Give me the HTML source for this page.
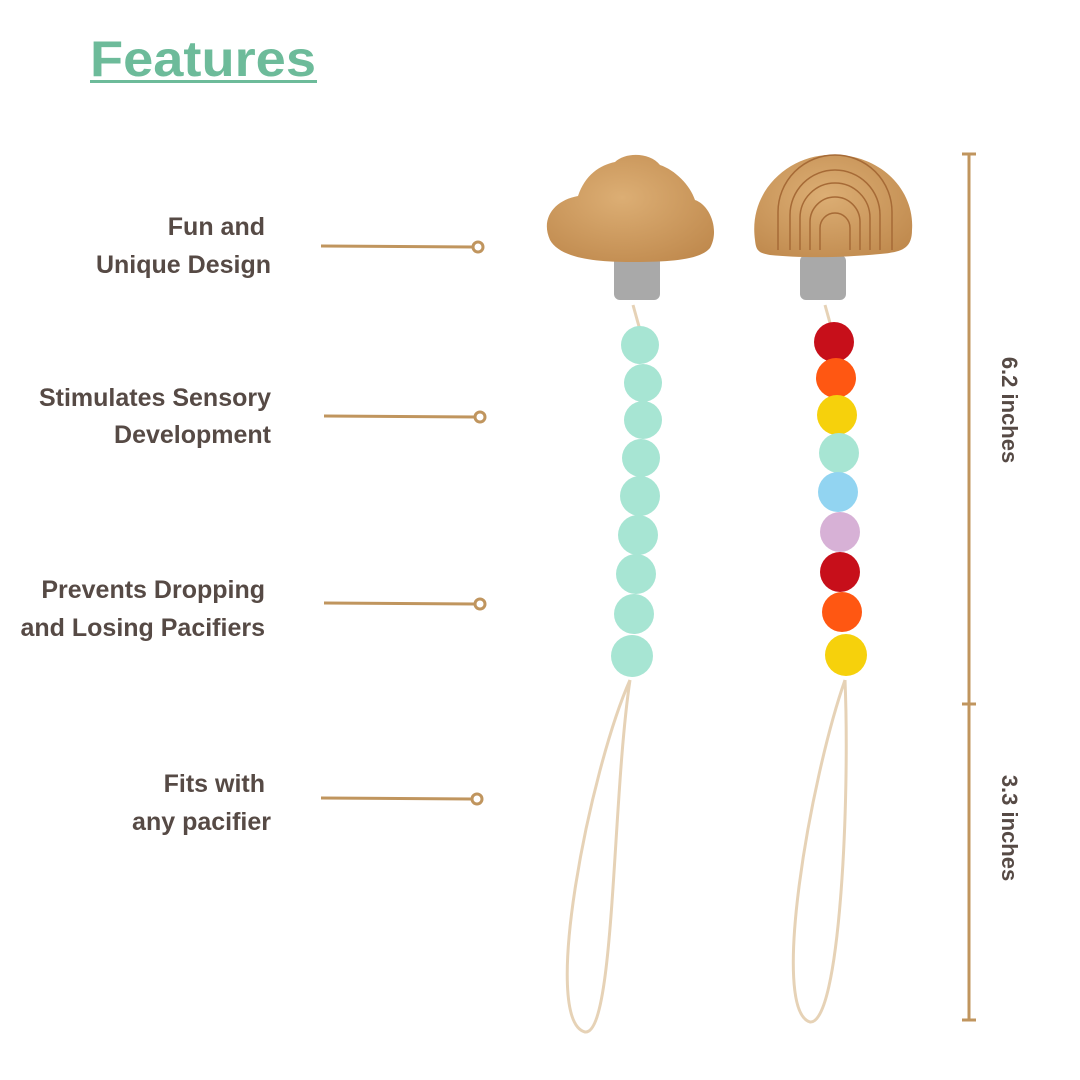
<!DOCTYPE html><html><head><style>body{margin:0;background:#fff}svg{display:block}</style></head><body>
<svg width="1080" height="1080" viewBox="0 0 1080 1080" xmlns="http://www.w3.org/2000/svg">
<defs>
<radialGradient id="wood" cx="0.45" cy="0.4" r="0.7"><stop offset="0" stop-color="#dcae74"/><stop offset="1" stop-color="#c08a4e"/></radialGradient>
</defs>
<text x="90" y="76" font-family="Liberation Sans, sans-serif" font-weight="bold" font-size="50" fill="#6dbb9a" textLength="226" lengthAdjust="spacingAndGlyphs">Features</text>
<rect x="90" y="80" width="227" height="3" fill="#6dbb9a"/>
<g font-family="Liberation Sans, sans-serif" font-weight="bold" font-size="25" fill="#564a45" text-anchor="end">
<text x="265" y="235">Fun and</text><text x="271" y="273">Unique Design</text>
<text x="271" y="406">Stimulates Sensory</text><text x="271" y="443">Development</text>
<text x="265" y="598">Prevents Dropping</text><text x="265" y="636">and Losing Pacifiers</text>
<text x="265" y="792">Fits with</text><text x="271" y="830">any pacifier</text>
</g>
<g stroke="#c0955e" stroke-width="3" fill="none">
<line x1="321" y1="246" x2="473" y2="247"/><circle cx="478" cy="247" r="5"/>
<line x1="324" y1="416" x2="475" y2="417"/><circle cx="480" cy="417" r="5"/>
<line x1="324" y1="603" x2="475" y2="604"/><circle cx="480" cy="604" r="5"/>
<line x1="321" y1="798" x2="472" y2="799"/><circle cx="477" cy="799" r="5"/>
<line x1="969" y1="154" x2="969" y2="1020"/>
<line x1="962" y1="154" x2="976" y2="154"/><line x1="962" y1="704" x2="976" y2="704"/><line x1="962" y1="1020" x2="976" y2="1020"/>
</g>
<g font-family="Liberation Sans, sans-serif" font-weight="bold" font-size="22" fill="#564a45" text-anchor="middle">
<text transform="translate(1002,410) rotate(90)">6.2 inches</text>
<text transform="translate(1002,828) rotate(90)">3.3 inches</text>
</g>
<g stroke="#e6d2b6" stroke-width="3" fill="none">
<path d="M630 680 C590 770 540 1020 585 1032 C615 1035 612 800 630 680"/>
<path d="M845 680 C810 780 770 1010 810 1022 C840 1025 850 800 845 680"/>
<line x1="633" y1="305" x2="640" y2="330"/><line x1="825" y1="305" x2="832" y2="330"/>
</g>
<rect x="614" y="255" width="46" height="45" rx="6" fill="#a9a9a9"/>
<rect x="800" y="255" width="46" height="45" rx="6" fill="#a9a9a9"/>
<path d="M550 240 C540 218 555 200 578 196 C585 175 600 165 615 162 C625 152 650 152 660 165 C675 170 690 185 695 200 C710 205 720 230 710 248 C700 260 670 262 630 262 C595 262 560 258 550 240 Z" fill="url(#wood)"/>
<path d="M755 240 C748 190 790 155 830 155 C880 153 915 190 912 230 C912 250 900 252 880 254 C840 258 800 258 770 255 C758 253 756 250 755 240 Z" fill="url(#wood)"/>
<g stroke="#a66a36" stroke-width="1.5" fill="none">
<path d="M790 250 V215 A45 45 0 0 1 880 215 V250"/>
<path d="M800 250 V218 A35 35 0 0 1 870 218 V250"/>
<path d="M810 250 V222 A25 25 0 0 1 860 222 V250"/>
<path d="M820 250 V228 A15 15 0 0 1 850 228 V250"/>
<path d="M778 250 V212 A57 57 0 0 1 892 212 V250"/>
</g>
<g fill="#a7e5d3">
<circle cx="640" cy="345" r="19"/><circle cx="643" cy="383" r="19"/><circle cx="643" cy="420" r="19"/><circle cx="641" cy="458" r="19"/><circle cx="640" cy="496" r="20"/><circle cx="638" cy="535" r="20"/><circle cx="636" cy="574" r="20"/><circle cx="634" cy="614" r="20"/><circle cx="632" cy="656" r="21"/>
</g>
<circle cx="834" cy="342" r="20" fill="#c70f1a"/>
<circle cx="836" cy="378" r="20" fill="#ff5712"/>
<circle cx="837" cy="415" r="20" fill="#f6d10c"/>
<circle cx="839" cy="453" r="20" fill="#a7e5d3"/>
<circle cx="838" cy="492" r="20" fill="#92d4f1"/>
<circle cx="840" cy="532" r="20" fill="#d7b1d6"/>
<circle cx="840" cy="572" r="20" fill="#c70f1a"/>
<circle cx="842" cy="612" r="20" fill="#ff5712"/>
<circle cx="846" cy="655" r="21" fill="#f6d10c"/>
</svg>
</body></html>
